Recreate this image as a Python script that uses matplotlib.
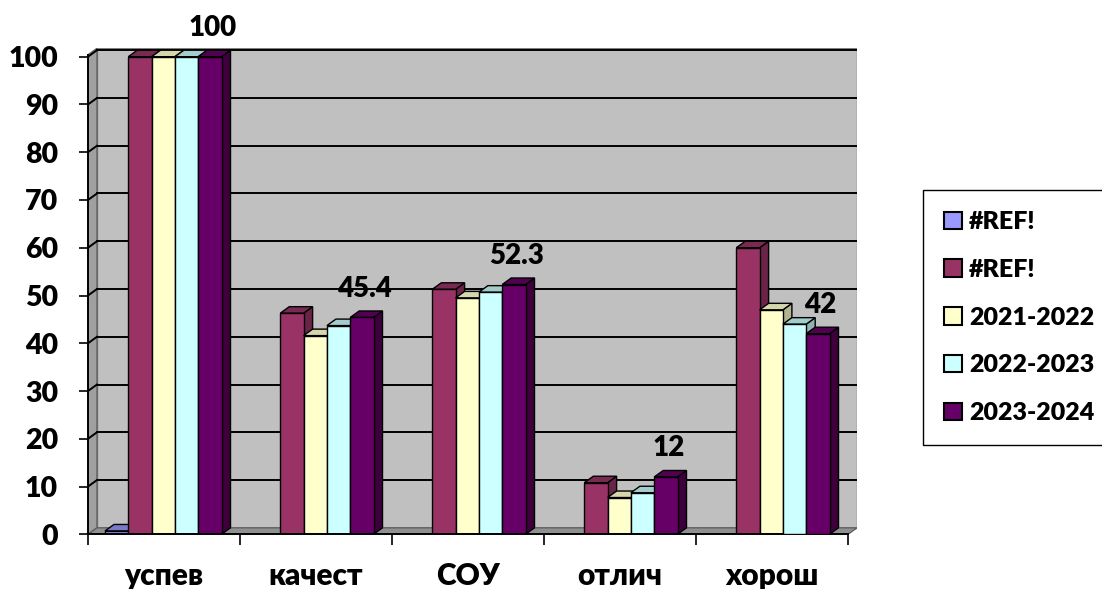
import numpy as np
import matplotlib.pyplot as plt
from matplotlib.patches import Polygon, Rectangle, Patch

# Data
categories = ['успев', 'качест', 'СОУ', 'отлич', 'хорош']
series_names = ['#REF!', '#REF!', '2021-2022', '2022-2023', '2023-2024']
ref_a = [0.7, 0, 0, 0, 0]
ref_b = [100, 46.3, 51.3, 10.8, 60]
y2021 = [100, 41.6, 49.5, 7.7, 47]
y2022 = [100, 43.7, 50.7, 8.7, 44]
y2023 = [100, 45.4, 52.3, 12, 42]
label_values = y2023

front = ['#9999FF', '#993366', '#FFFFCC', '#CCFFFF', '#660066']
side = ['#6B6BB3', '#6B2447', '#B3B38F', '#8FB3B3', '#3D003D']
top = ['#7A7ACC', '#7A2952', '#D6D6AB', '#A3CCCC', '#520052']

WT = 'heavy'
plt.rcParams['font.family'] = ['Lato', 'DejaVu Sans']
plt.rcParams['font.weight'] = WT

W, H = 1102, 589
fig = plt.figure(figsize=(W / 100, H / 100), dpi=100)

ppc = 152.0      # pixels per category
ppv = 4.776      # pixels per value unit
x_left, x_right = 88, 857
y_zero, y_top = 534.3, 48
ax = fig.add_axes([x_left / W, (H - y_zero) / H, (x_right - x_left) / W, (y_zero - y_top) / H])
xmax = (x_right - x_left) / ppc
ymax = (y_zero - y_top) / ppv
ax.set_xlim(0, xmax)
ax.set_ylim(0, ymax)

DX = 9 / ppc
DY = 6.5 / ppv
ncat = len(categories)

# walls and floor
ax.add_patch(Rectangle((DX, DY), xmax - DX, ymax - DY, facecolor='#C0C0C0',
                       edgecolor='#808080', lw=1, zorder=0))
ax.add_patch(Polygon([(0, 0), (0, 100.4), (DX, 100.4 + DY), (DX, DY)],
                     facecolor='#A0A0A0', edgecolor='#606060', lw=1, zorder=1))
ax.add_patch(Polygon([(0, 0), (ncat, 0), (ncat + DX, DY), (DX, DY)],
                     facecolor='#909090', edgecolor='#606060', lw=1, zorder=1))

for v in range(10, 101, 10):
    ax.plot([DX, xmax], [v + DY, v + DY], color='black', lw=1.4, zorder=2)
    ax.plot([0, DX], [v, v + DY], color='black', lw=1.4, zorder=2)

data = [ref_a, ref_b, y2021, y2022, y2023]
off = 17 / ppc
w = 23.3 / ppc
z = 3
for i in range(ncat):
    for j, vals in enumerate(data):
        v = vals[i]
        if v <= 0:
            continue
        x0 = i + off + j * w
        ax.add_patch(Polygon([(x0 + w, 0), (x0 + w + DX, DY), (x0 + w + DX, v + DY), (x0 + w, v)],
                             facecolor=side[j], edgecolor='black', lw=1, zorder=z))
        ax.add_patch(Polygon([(x0, v), (x0 + DX, v + DY), (x0 + w + DX, v + DY), (x0 + w, v)],
                             facecolor=top[j], edgecolor='black', lw=1, zorder=z))
        ax.add_patch(Rectangle((x0, 0), w, v, facecolor=front[j], edgecolor='black', lw=1, zorder=z + 1))
        z += 2
    lx = i + off + 4 * w + w / 2 + DX / 2 - 2 / ppc
    ax.text(lx, label_values[i] + 6.0, f'{label_values[i]:g}', ha='center', va='center',
            fontsize=20, fontweight=WT, zorder=50, clip_on=False)

for spine in ['top', 'right']:
    ax.spines[spine].set_visible(False)
ax.spines['left'].set_bounds(0, 100.4)
ax.spines['bottom'].set_bounds(0, ncat)
for spine in ['left', 'bottom']:
    ax.spines[spine].set_linewidth(1.4)
    ax.spines[spine].set_zorder(40)

ax.set_yticks(range(0, 101, 10))
ax.tick_params(axis='y', length=6.5, width=1.2, pad=15, labelsize=20.5)
for t in ax.get_yticklabels():
    t.set_fontweight(WT)
ax.set_xticks(range(ncat + 1))
ax.set_xticklabels([''] * (ncat + 1))
ax.tick_params(axis='x', length=8, width=1.2)

for i, c in enumerate(categories):
    ax.text(i + 0.5, -(585 - y_zero) / ppv, c, ha='center', va='baseline',
            fontsize=21.5, fontweight=WT, clip_on=False)

handles = [Patch(facecolor=front[j], edgecolor='black', lw=1.5) for j in range(5)]
leg = fig.legend(handles, series_names, loc='upper left',
                 bbox_to_anchor=(923 / W, 1 - 190 / H), borderaxespad=0,
                 prop={'weight': WT, 'size': 18},
                 handlelength=0.7, handleheight=0.7, handletextpad=0.3,
                 labelspacing=1.03, borderpad=0.85, fancybox=False, framealpha=1)
leg.get_frame().set_edgecolor('black')
leg.get_frame().set_linewidth(1)

fig.savefig('out.png', dpi=100)
